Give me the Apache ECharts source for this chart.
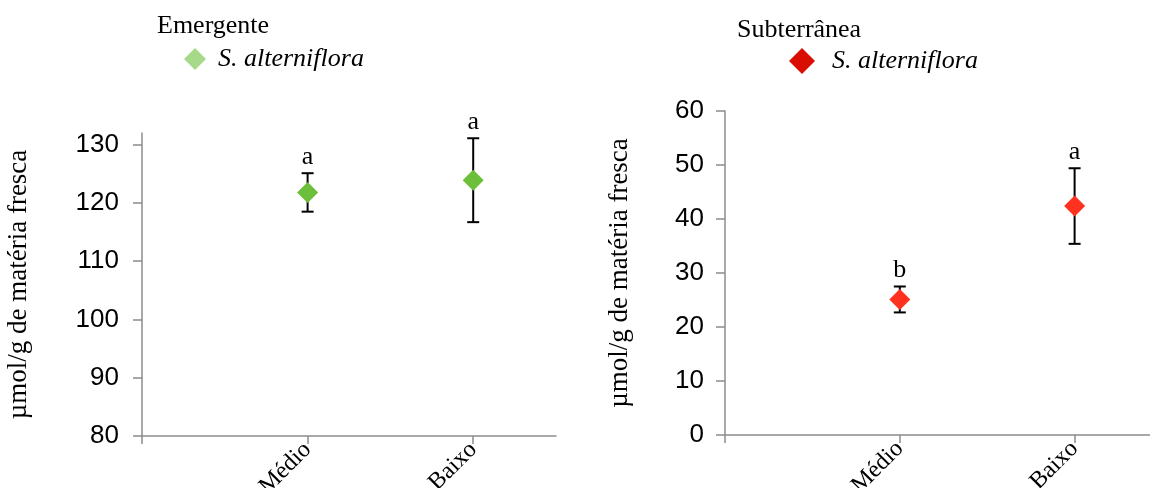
<!DOCTYPE html>
<html>
<head>
<meta charset="utf-8">
<script src="https://cdn.jsdelivr.net/npm/echarts@6/dist/echarts.min.js"></script>
<style>
  html, body { margin: 0; padding: 0; background: #ffffff; }
  #chart { width: 1150px; height: 488px; }
</style>
</head>
<body>
<div id="chart"></div>
<script>
// Sampling zones (x positions 1 and 2 on each panel)
const categories = ['Médio', 'Baixo'];
const categoryPos = [1, 2];

// Emergente (aerial tissue)
const emergMean = [121.8, 123.9];
const emergErr = [3.3, 7.2];
const emergLetters = ['a', 'a'];

// Subterrânea (below-ground tissue)
const subMean = [25.1, 42.4];
const subErr = [2.4, 7.0];
const subLetters = ['b', 'a'];

// Y-axis tick labels
const emergTicks = [80, 90, 100, 110, 120, 130];
const subTicks = [0, 10, 20, 30, 40, 50, 60];

const speciesName = 'S. alterniflora';
const panelTitles = ['Emergente', 'Subterrânea'];
const yTitle = 'µmol/g de matéria fresca';

const AXIS_GRAY = '#8c8c8c';
const SERIF = '"Liberation Serif", "DejaVu Serif", serif';
const SANS = '"Liberation Sans", Arial, sans-serif';

const chart = echarts.init(document.getElementById('chart'), null, { renderer: 'canvas' });

function xAxisFor(gridIndex) {
  return {
    type: 'value', gridIndex: gridIndex, min: 0, max: 2.5,
    splitLine: { show: false },
    axisLine: { show: true, onZero: false, lineStyle: { color: AXIS_GRAY, width: 1.5 } },
    axisTick: { show: true, length: 8, customValues: [0, 1, 2], lineStyle: { color: AXIS_GRAY, width: 1.5 } },
    axisLabel: {
      customValues: categoryPos,
      formatter: v => categories[categoryPos.indexOf(v)] || '',
      rotate: 45, margin: 10,
      fontFamily: SERIF, fontSize: 24, color: '#000'
    }
  };
}

function yAxisFor(gridIndex, min, max, ticks, gap, labelMargin) {
  return {
    type: 'value', gridIndex: gridIndex, min: min, max: max, interval: 10,
    name: yTitle, nameLocation: 'middle', nameGap: gap,
    nameTextStyle: { fontFamily: SERIF, fontSize: 27, color: '#000' },
    splitLine: { show: false },
    axisLine: { show: true, lineStyle: { color: AXIS_GRAY, width: 1.5 } },
    axisTick: { show: true, length: 9, customValues: ticks, lineStyle: { color: AXIS_GRAY, width: 1.5 } },
    axisLabel: { customValues: ticks, margin: labelMargin, fontFamily: SANS, fontSize: 26, color: '#000' }
  };
}

// Error bar with caps and the significance letter above it
function errorSeries(idx, means, errs, letters) {
  const data = means.map((m, i) => [categoryPos[i], m - errs[i], m + errs[i], letters[i]]);
  return {
    type: 'custom', xAxisIndex: idx, yAxisIndex: idx, z: 1,
    data: data,
    renderItem: function (params, api) {
      const x = api.value(0);
      const lo = api.coord([x, api.value(1)]);
      const hi = api.coord([x, api.value(2)]);
      const cap = 6;
      const st = { stroke: '#000', lineWidth: 2 };
      return {
        type: 'group',
        children: [
          { type: 'line', shape: { x1: hi[0], y1: hi[1], x2: lo[0], y2: lo[1] }, style: st },
          { type: 'line', shape: { x1: hi[0] - cap, y1: hi[1], x2: hi[0] + cap, y2: hi[1] }, style: st },
          { type: 'line', shape: { x1: lo[0] - cap, y1: lo[1], x2: lo[0] + cap, y2: lo[1] }, style: st },
          { type: 'text', x: hi[0], y: hi[1] - 3,
            style: { text: data[params.dataIndex][3], fill: '#000', font: '26px ' + SERIF,
                     textAlign: 'center', textVerticalAlign: 'bottom' } }
        ]
      };
    }
  };
}

function meanSeries(idx, means, color) {
  return {
    type: 'scatter', name: speciesName, xAxisIndex: idx, yAxisIndex: idx, z: 3,
    symbol: 'diamond', symbolSize: 21,
    itemStyle: { color: color, opacity: 1 },
    data: means.map((m, i) => [categoryPos[i], m])
  };
}

const option = {
  animation: false,
  backgroundColor: '#ffffff',
  title: [
    { text: panelTitles[0], left: 152, top: 8, textStyle: { fontFamily: SERIF, fontSize: 26, fontWeight: 'normal', color: '#000' } },
    { text: panelTitles[1], left: 732, top: 12, textStyle: { fontFamily: SERIF, fontSize: 26, fontWeight: 'normal', color: '#000' } }
  ],
  legend: [
    {
      left: 179, top: 41, itemWidth: 22, itemHeight: 22, itemGap: 12,
      selectedMode: false,
      data: [{ name: speciesName, icon: 'diamond', itemStyle: { color: '#a6da8a' } }],
      textStyle: { fontFamily: SERIF, fontStyle: 'italic', fontSize: 26, color: '#000', padding: [0, 0, 0, 7] }
    },
    {
      left: 784, top: 43, itemWidth: 26, itemHeight: 26, itemGap: 17,
      selectedMode: false,
      data: [{ name: speciesName, icon: 'diamond', itemStyle: { color: '#d80e02' } }],
      textStyle: { fontFamily: SERIF, fontStyle: 'italic', fontSize: 26, color: '#000', padding: [0, 0, 0, 12] }
    }
  ],
  grid: [
    { left: 142, top: 133, width: 414, height: 303, outerBoundsMode: 'none' },
    { left: 725, top: 111, width: 437, height: 324, outerBoundsMode: 'none' }
  ],
  xAxis: [xAxisFor(0), xAxisFor(1)],
  yAxis: [yAxisFor(0, 80, 132, emergTicks, 110, 23), yAxisFor(1, 0, 60, subTicks, 92, 21)],
  series: [
    errorSeries(0, emergMean, emergErr, emergLetters),
    meanSeries(0, emergMean, '#6cbf3a'),
    errorSeries(1, subMean, subErr, subLetters),
    meanSeries(1, subMean, '#ff3220')
  ]
};

chart.setOption(option);
</script>
</body>
</html>
